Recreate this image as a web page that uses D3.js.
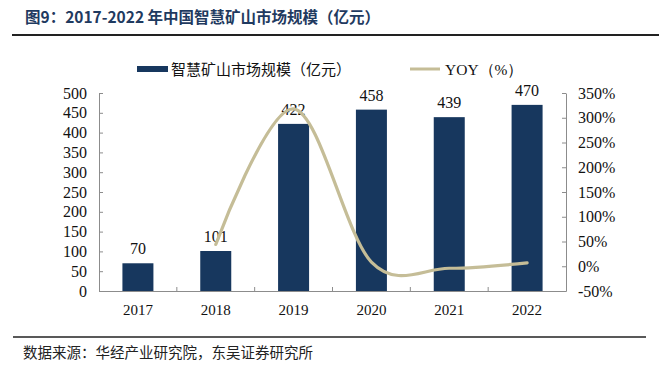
<!DOCTYPE html>
<meta charset="utf-8">
<script src="https://d3js.org/d3.v7.min.js"></script>
<style>
  body { margin: 0; background: #fff; }
  text { font-family: "Liberation Serif", "Times New Roman", serif; }
  .cn { font-family: "Noto Sans CJK SC", sans-serif; }
</style>
<body>
<div id="chart"></div>
</body>
<script>
    // chart data
    const years = ["2017", "2018", "2019", "2020", "2021", "2022"];
    const marketSize = [70, 101, 422, 458, 439, 470];
    const yoy = [null, 44, 318, 8.5, -4, 7];
    const leftTicks = [0, 50, 100, 150, 200, 250, 300, 350, 400, 450, 500];
    const rightTicks = [-50, 0, 50, 100, 150, 200, 250, 300, 350];

    const W = 659, H = 373;
    const margin = { top: 93, right: 93, bottom: 82, left: 99 };
    const width = W - margin.left - margin.right,
        height = H - margin.top - margin.bottom;

    const svg = d3.select("#chart")
        .append("svg")
        .attr("width", W)
        .attr("height", H);

    // title + rules
    svg.append("text")
        .attr("class", "cn")
        .attr("x", 25)
        .attr("y", 23)
        .style("font-size", "15.5px")
        .style("font-weight", "bold")
        .attr("fill", "#1f3a60")
        .text("图9：2017-2022 年中国智慧矿山市场规模（亿元）");
    svg.append("line")
        .attr("x1", 12).attr("x2", 659)
        .attr("y1", 35).attr("y2", 35)
        .attr("stroke", "#222").attr("stroke-width", 2);
    svg.append("line")
        .attr("x1", 13).attr("x2", 646)
        .attr("y1", 337).attr("y2", 337)
        .attr("stroke", "#222").attr("stroke-width", 1.5);
    svg.append("text")
        .attr("class", "cn")
        .attr("x", 23)
        .attr("y", 358)
        .style("font-size", "14.5px")
        .attr("fill", "#222")
        .text("数据来源：华经产业研究院，东吴证券研究所");

    const g = svg.append("g")
        .attr("transform", `translate(${margin.left},${margin.top})`);

    const x = d3.scaleBand()
        .domain(years)
        .range([0, width]);

    const y = d3.scaleLinear()
        .domain([0, 500])
        .range([height, 0]);

    const y2 = d3.scaleLinear()
        .domain([-50, 350])
        .range([height, 0]);

    const axisColor = "#8c8c8c";

    // left axis
    const yAxis = g.append("g")
        .call(d3.axisLeft(y).tickValues(leftTicks).tickSizeInner(-4).tickSizeOuter(0).tickPadding(12));
    // right axis
    const y2Axis = g.append("g")
        .attr("transform", `translate(${width},0)`)
        .call(d3.axisRight(y2).tickValues(rightTicks).tickSizeInner(-4).tickSizeOuter(0).tickPadding(12)
            .tickFormat(d => d + "%"));
    // bottom axis
    const xAxis = g.append("g")
        .attr("transform", `translate(0,${height})`)
        .call(d3.axisBottom(x).tickSize(0).tickPadding(13));

    // category separators
    g.append("g")
        .selectAll("line")
        .data(years.slice(1))
        .join("line")
        .attr("x1", d => x(d)).attr("x2", d => x(d))
        .attr("y1", height - 4).attr("y2", height)
        .attr("stroke", axisColor);

    [yAxis, y2Axis, xAxis].forEach(a => {
        a.selectAll("path, line").attr("stroke", axisColor);
        a.selectAll("text")
            .attr("fill", "#111")
            .style("font-family", "'Liberation Serif', serif")
            .style("font-size", "16px");
    });
    xAxis.selectAll("text").style("font-size", "15px");

    // bars
    const barW = 31;
    g.selectAll(".bar")
        .data(marketSize)
        .join("rect")
        .attr("class", "bar")
        .attr("x", (d, i) => x(years[i]) + x.bandwidth() / 2 - barW / 2)
        .attr("y", d => y(d))
        .attr("width", barW)
        .attr("height", d => height - y(d))
        .attr("fill", "#17375e");

    // bar labels
    g.selectAll(".lbl")
        .data(marketSize)
        .join("text")
        .attr("class", "lbl")
        .attr("x", (d, i) => x(years[i]) + x.bandwidth() / 2)
        .attr("y", d => y(d) - 9)
        .attr("text-anchor", "middle")
        .style("font-size", "16px")
        .attr("fill", "#111")
        .text(d => d);

    // yoy smoothed line
    const line = d3.line()
        .defined(d => d[1] !== null)
        .x(d => x(d[0]) + x.bandwidth() / 2)
        .y(d => y2(d[1]))
        .curve(d3.curveCardinal.tension(0));

    g.append("path")
        .datum(years.map((yr, i) => [yr, yoy[i]]).filter(d => d[1] !== null))
        .attr("fill", "none")
        .attr("stroke", "#c5bd97")
        .attr("stroke-width", 3.2)
        .attr("stroke-linecap", "round")
        .attr("d", line);

    // legend
    const legend = svg.append("g");
    legend.append("rect")
        .attr("x", 137).attr("y", 66)
        .attr("width", 31).attr("height", 6)
        .attr("fill", "#17375e");
    legend.append("text")
        .attr("class", "cn")
        .attr("x", 171).attr("y", 75)
        .style("font-size", "15px")
        .attr("fill", "#111")
        .text("智慧矿山市场规模（亿元）");
    legend.append("line")
        .attr("x1", 410).attr("x2", 440)
        .attr("y1", 69).attr("y2", 69)
        .attr("stroke", "#c5bd97").attr("stroke-width", 3);
    legend.append("text")
        .attr("x", 445).attr("y", 75)
        .style("font-size", "15.5px")
        .attr("fill", "#111")
        .text("YOY（%）");
</script>
